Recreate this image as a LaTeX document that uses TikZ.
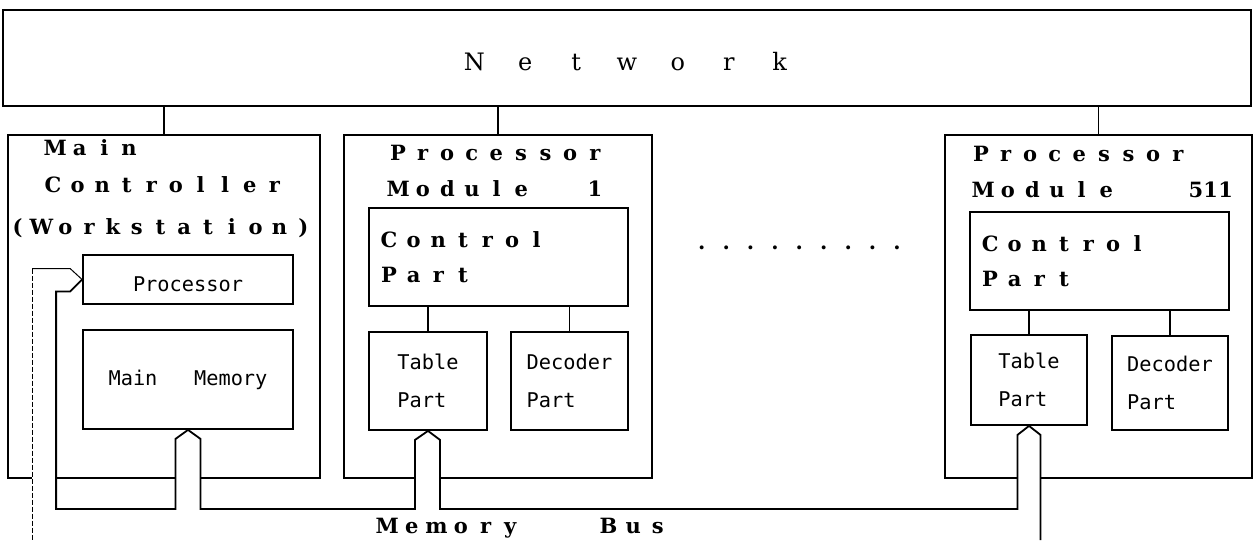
\documentclass[tikz,border=0pt]{standalone}
\usepackage{fontspec}
\setmainfont{DejaVu Serif}
\newfontfamily\monofont{DejaVu Sans Mono}
\usetikzlibrary{calc}

\makeatletter
% every character in a cell of fixed width (plotter lettering)
\newcommand\pitched[2]{\@tfor\@pch:=#2\do{\makebox[#1]{\@pch}}}
\makeatother

\begin{document}
\begin{tikzpicture}[x=1pt, y=-1pt, line width=1.8pt,
    box/.style={draw, rectangle, inner sep=0pt},
    title/.style={anchor=base west, inner sep=0pt, font=\fontsize{21}{21}\selectfont\bfseries},
    ctl/.style={box, text width=243.4, inner xsep=7.8, align=left, minimum height=98,
                font=\fontsize{21}{35}\selectfont\bfseries},
    small/.style={box, align=left, font=\monofont\fontsize{20.3}{38}\selectfont},
    thin line/.style={line width=1pt},
    gap/.style={draw=white, line width=4pt}]

    \useasboundingbox (0,0) rectangle (1254,542);

    \node[box, minimum width=1248, minimum height=96, text height=24, text depth=0] (net) at (627,58)
        {\fontsize{24}{24}\selectfont\pitched{50.9pt}{Network}};

    % main controller
    \node[box, minimum width=312, minimum height=343] (mc) at (164,306.5) {};
    \node[title] (mc-a) at (42,155) {\pitched{24.6pt}{Main}};
    \node[title] (mc-b) at (39.8,192) {\pitched{24.6pt}{Controller}};
    \node[title] (mc-c) at (4.9,234) {\pitched{23.8pt}{(Workstation)}};
    \node[small, minimum width=210, minimum height=49, text height=24, text depth=0] (proc) at (188,279.5) {Processor};
    \node[small, minimum width=210, minimum height=99] (mem) at (188,379.5) {Main~~~Memory};

    % processor module 1
    \node[box, minimum width=308, minimum height=343] (pm1) at (498,306.5) {};
    \node[title] (pm1-a) at (384.8,160) {\pitched{24.6pt}{Processor}};
    \node[title] (pm1-b) at (385,196) {\pitched{24.6pt}{Module~~1}};
    \node[ctl] (ctl1) at (498.5,257) {\pitched{24.6pt}{Control}\\\pitched{24.6pt}{Part}};
    \node[small, minimum width=118, minimum height=98] (tbl1) at (428,381) {Table\\Part};
    \node[small, minimum width=117, minimum height=98] (dec1) at (569.5,381) {Decoder\\Part};

    \node[title] (dots) at (688.7,249.5) {\pitched{24.4pt}{.........}};

    % processor module 511
    \node[box, minimum width=307, minimum height=343] (pm511) at (1098.5,306.5) {};
    \node[title] (pm511-a) at (967.8,161) {\pitched{24.6pt}{Processor}};
    \node[title] (pm511-b) at (970,197) {\pitched{24.6pt}{Module~~~}\hspace{-4pt}\pitched{15pt}{511}};
    \node[ctl] (ctl511) at (1099.5,261) {\pitched{24.6pt}{Control}\\\pitched{24.6pt}{Part}};
    \node[small, minimum width=116, minimum height=90] (tbl511) at (1029,380) {Table\\Part};
    \node[small, minimum width=116, minimum height=94] (dec511) at (1170,383) {Decoder\\Part};

    \node[title] (busname) at (374,533) {\pitched{24.6pt}{Memory~~~Bus}};

    \foreach \s in {mc, pm1, pm511}
        \draw (net.south -| \s.north) -- (\s.north);
    \foreach \c/\p in {ctl1/tbl1, ctl1/dec1, ctl511/tbl511, ctl511/dec511}
        \draw (\c.south -| \p.north) -- (\p.north);

    % bus lines
    \coordinate (bus) at (0,509);
    \coordinate (end) at (0,540);
    \coordinate (po) at ($(proc.west)+(-50,-11)$);
    \coordinate (pi) at ($(proc.west)+(-26,12)$);
    \coordinate (m1) at ($(mem.south)+(-12.5,9)$);
    \coordinate (m2) at ($(mem.south)+(12.5,9)$);
    \coordinate (t1a) at ($(tbl1.south)+(-13,9)$);
    \coordinate (t1b) at ($(tbl1.south)+(12,9)$);
    \coordinate (t5a) at ($(tbl511.south)+(-11.5,9)$);
    \coordinate (t5b) at ($(tbl511.south)+(11.5,9)$);

    \draw[gap] (po |- mc.south) -- (pi |- mc.south);
    \draw[gap] (m1 |- mc.south) -- (m2 |- mc.south);
    \draw[gap] (t1a |- pm1.south) -- (t1b |- pm1.south);
    \draw[gap] (t5a |- pm511.south) -- (t5b |- pm511.south);

    \draw[thin line] (proc.west) -- ++(-12,-11) -- (po);
    \draw[thin line, dash pattern=on 5pt off 2pt] (po) -- (po |- end);
    \draw (proc.west) -- ++(-12,12) -- (pi) -- (pi |- bus) -- (m1 |- bus) -- (m1)
        -- (mem.south) -- (m2) -- (m2 |- bus) -- (t1a |- bus) -- (t1a)
        -- (tbl1.south) -- (t1b) -- (t1b |- bus) -- (t5a |- bus) -- (t5a)
        -- (tbl511.south) -- (t5b) -- (t5b |- end);
\end{tikzpicture}
\end{document}
